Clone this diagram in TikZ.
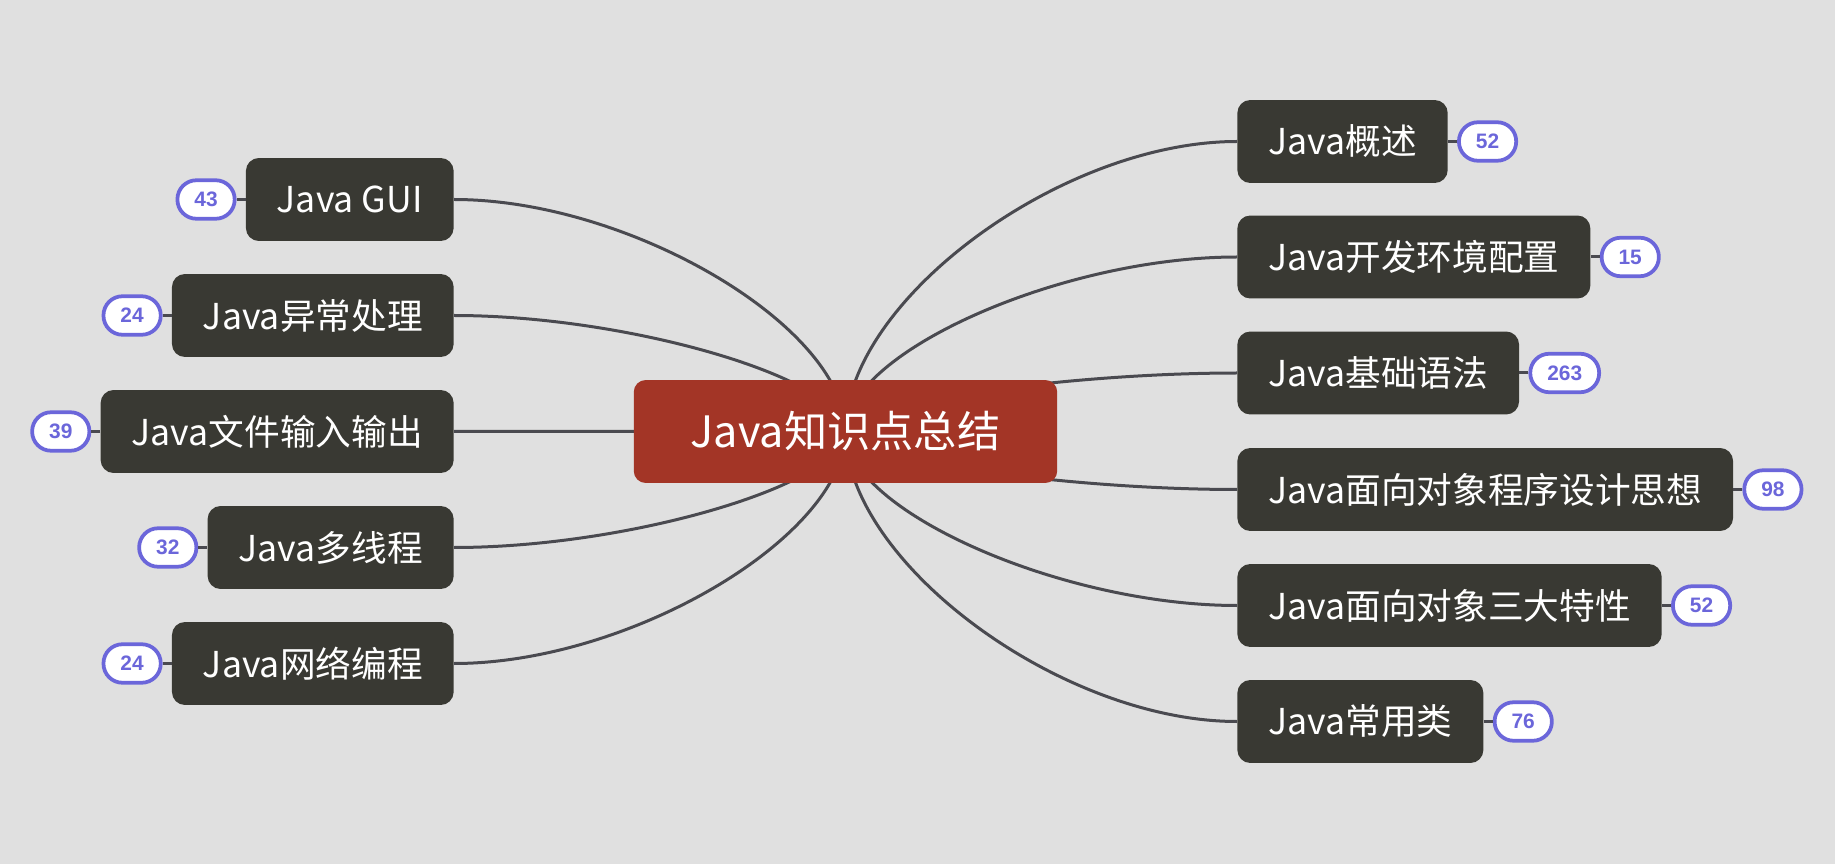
\documentclass[tikz,border=0pt]{standalone}
\usepackage{fontspec}
\setmainfont{Noto Sans CJK SC}
\newfontfamily\numfont{Liberation Sans}
\usepackage{tikz}
\usetikzlibrary{positioning,calc,backgrounds}
\definecolor{canvas}{RGB}{224,224,224}
\definecolor{topic}{RGB}{57,57,51}
\definecolor{rootred}{RGB}{163,53,38}
\definecolor{wire}{RGB}{74,74,80}
\definecolor{badge}{RGB}{107,102,218}

\begin{document}
\begin{tikzpicture}[x=0.02cm,y=-0.02cm,
  t/.style={fill=topic,text=white,rounded corners=0.26cm,minimum height=1.66cm,inner xsep=0.62cm,font=\fontsize{20.3}{24}\selectfont},
  r/.style={fill=rootred,text=white,rounded corners=0.24cm,minimum height=2.06cm,inner xsep=1.14cm,font=\fontsize{24.6}{30}\selectfont},
  n/.style={draw=badge,line width=0.075cm,fill=white,text=badge,rounded corners=0.38cm,minimum width=1.13cm,minimum height=0.77cm,inner xsep=0.34cm,inner ysep=0pt,font=\numfont\fontsize{11.9}{14}\selectfont\bfseries},
  l/.style={line width=0.06cm,color=wire}]
  \node[r] (root) at (845.5,431.5) {Java知识点总结};
  % right side
  \node[t,anchor=west] (ov) at (1237,141.5) {Java概述};
  \node[t,anchor=west] (env) at (1237,257) {Java开发环境配置};
  \node[t,anchor=west] (syn) at (1237,373) {Java基础语法};
  \node[t,anchor=west] (oop) at (1237,489.5) {Java面向对象程序设计思想};
  \node[t,anchor=west] (feat) at (1237,605.5) {Java面向对象三大特性};
  \node[t,anchor=west] (cls) at (1237,721.5) {Java常用类};
  % left side
  \node[t,anchor=east] (gui) at (454,199.5) {Java GUI};
  \node[t,anchor=east] (exc) at (454,315.5) {Java异常处理};
  \node[t,anchor=east] (io) at (454,431.5) {Java文件输入输出};
  \node[t,anchor=east] (thr) at (454,547.5) {Java多线程};
  \node[t,anchor=east] (net) at (454,663.5) {Java网络编程};
  % counts
  \node[n,right=0.18cm of ov] (ovn) {52};
  \node[n,right=0.18cm of env] (envn) {15};
  \node[n,right=0.18cm of syn] (synn) {263};
  \node[n,right=0.18cm of oop] (oopn) {98};
  \node[n,right=0.18cm of feat] (featn) {52};
  \node[n,right=0.18cm of cls] (clsn) {76};
  \node[n,left=0.18cm of gui] (guin) {43};
  \node[n,left=0.18cm of exc] (excn) {24};
  \node[n,left=0.18cm of io] (ion) {39};
  \node[n,left=0.18cm of thr] (thrn) {32};
  \node[n,left=0.18cm of net] (netn) {24};
  \draw[l] (ov)--(ovn); \draw[l] (env)--(envn); \draw[l] (syn)--(synn);
  \draw[l] (oop)--(oopn); \draw[l] (feat)--(featn); \draw[l] (cls)--(clsn);
  \draw[l] (gui)--(guin); \draw[l] (exc)--(excn); \draw[l] (io)--(ion);
  \draw[l] (thr)--(thrn); \draw[l] (net)--(netn);
  \begin{scope}[on background layer]
    \fill[canvas] (0,0) rectangle (1835,864);
    \foreach \e in {ov.west,env.west,syn.west,oop.west,feat.west,cls.west,gui.east,exc.east,io.east,thr.east,net.east}
      \draw[l] (root.center) .. controls ($(root.center)!0.45!(root.center |- \e)$) and ($(\e)!0.45!(root.center |- \e)$) .. (\e);
  \end{scope}
\end{tikzpicture}
\end{document}
